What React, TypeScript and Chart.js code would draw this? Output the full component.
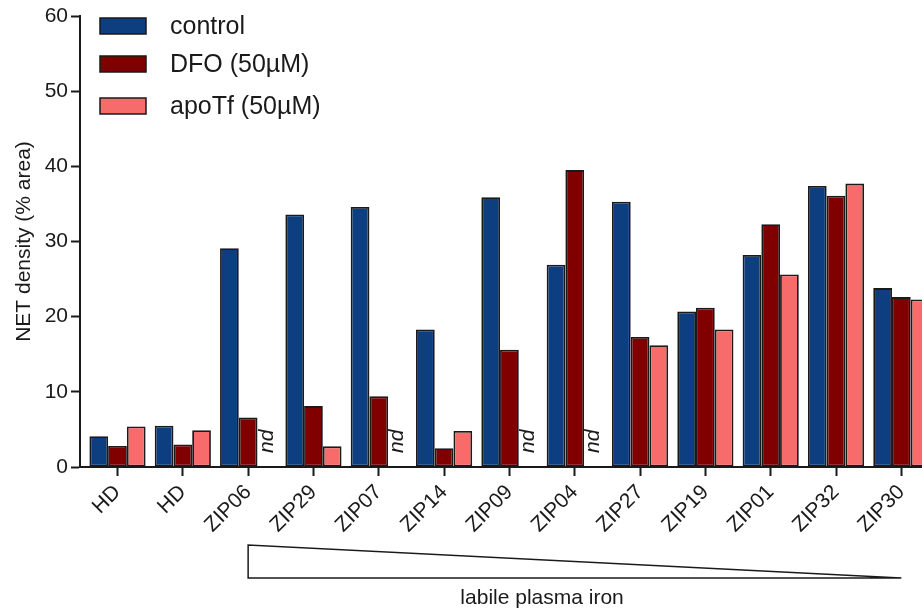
import React, { useEffect, useRef } from 'react';
import { Chart, registerables } from 'chart.js';

Chart.register(...registerables);

const categories = ['HD', 'HD', 'ZIP06', 'ZIP29', 'ZIP07', 'ZIP14', 'ZIP09', 'ZIP04', 'ZIP27', 'ZIP19', 'ZIP01', 'ZIP32', 'ZIP30'];
const controlValues = [4.1, 5.5, 29.1, 33.6, 34.6, 18.3, 35.9, 26.9, 35.3, 20.7, 28.2, 37.4, 23.8];
const dfoValues = [2.8, 3.0, 6.6, 8.1, 9.4, 2.5, 15.6, 39.5, 17.3, 21.2, 32.3, 36.1, 22.6];
const apoTfValues: (number | null)[] = [5.4, 4.9, null, 2.75, null, 4.8, null, null, 16.2, 18.3, 25.6, 37.7, 22.3];

const seriesLabels = ['control', 'DFO (50µM)', 'apoTf (50µM)'];
const seriesColors = ['#0d3f80', '#800000', '#f86b6b'];
const yTickValues = [0, 10, 20, 30, 40, 50, 60];
const yTitle = 'NET density (% area)';
const xNote = 'labile plasma iron';
const ndLabel = 'nd';
const gradientFrom = 2; // ZIP06
const gradientTo = 12; // ZIP30

const FONT = '"Liberation Sans", Arial, sans-serif';
const INK = '#1a1a1a';

export default function App() {
  const ref = useRef<HTMLCanvasElement>(null);

  useEffect(() => {
    const canvas = ref.current;
    if (!canvas) return;
    const series = [controlValues, dfoValues, apoTfValues];

    const overlay = {
      id: 'overlay',
      afterDatasetsDraw(chart: any) {
        const ctx = chart.ctx;
        const y = chart.scales.y;
        ctx.save();
        ctx.font = `italic 21px ${FONT}`;
        ctx.fillStyle = INK;
        series.forEach((vals, di) => {
          const meta = chart.getDatasetMeta(di);
          vals.forEach((v, i) => {
            if (v === null || v === undefined) {
              const el = meta.data[i];
              if (!el || !isFinite(el.x)) return;
              ctx.save();
              ctx.translate(el.x, y.getPixelForValue(0) - 14);
              ctx.rotate(-Math.PI / 2);
              ctx.textAlign = 'left';
              ctx.textBaseline = 'middle';
              ctx.fillText(ndLabel, 0, 0);
              ctx.restore();
            }
          });
        });
        ctx.restore();
      },
      afterDraw(chart: any) {
        const ctx = chart.ctx;
        const x = chart.scales.x;
        // legend
        const rowY = [26, 64, 106];
        ctx.save();
        seriesLabels.forEach((label, i) => {
          ctx.fillStyle = seriesColors[i];
          ctx.fillRect(100, rowY[i] - 8, 46, 16);
          ctx.lineWidth = 1.5;
          ctx.strokeStyle = INK;
          ctx.strokeRect(100, rowY[i] - 8, 46, 16);
          ctx.fillStyle = INK;
          ctx.font = `25px ${FONT}`;
          ctx.textAlign = 'left';
          ctx.textBaseline = 'middle';
          ctx.fillText(label, 170, rowY[i] + 1);
        });
        // gradient triangle
        const x0 = x.getPixelForValue(gradientFrom);
        const x1 = x.getPixelForValue(gradientTo);
        ctx.beginPath();
        ctx.moveTo(x0, 545);
        ctx.lineTo(x0, 578);
        ctx.lineTo(x1, 578);
        ctx.closePath();
        ctx.lineWidth = 1.5;
        ctx.strokeStyle = INK;
        ctx.stroke();
        ctx.fillStyle = INK;
        ctx.font = `21px ${FONT}`;
        ctx.textAlign = 'center';
        ctx.textBaseline = 'middle';
        ctx.fillText(xNote, x.getPixelForValue((gradientFrom + gradientTo) / 2 - 0.5), 598);
        ctx.restore();
      },
    };

    const chart = new Chart(canvas, {
      type: 'bar',
      data: {
        datasets: series.map((vals, i) => ({
          label: seriesLabels[i],
          data: vals.map((v, j) => ({ x: j, y: v })),
          backgroundColor: seriesColors[i],
          borderColor: INK,
          borderWidth: 1.8,
          borderSkipped: false,
          categoryPercentage: 0.86,
          barPercentage: 1,
        })) as any,
      },
      options: {
        responsive: false,
        animation: false,
        layout: { padding: { top: 16, right: 10, left: 0, bottom: 0 } },
        plugins: {
          legend: { display: false },
          tooltip: { enabled: false },
        },
        scales: {
          x: {
            type: 'linear',
            offset: false,
            min: -0.574,
            max: 12.5,
            afterBuildTicks(scale: any) {
              scale.ticks = categories.map((_, i) => ({ value: i }));
            },
            afterFit(scale: any) {
              scale.height = 145;
              scale.paddingLeft = 0;
              scale.paddingRight = 0;
              scale.paddingTop = 0;
              scale.paddingBottom = 0;
            },
            ticks: {
              autoSkip: false,
              minRotation: 45,
              maxRotation: 45,
              padding: 4,
              color: INK,
              font: { family: FONT, size: 21 },
              callback: (v: any) => categories[v] ?? '',
            },
            grid: {
              display: true,
              offset: false,
              drawOnChartArea: false,
              drawTicks: true,
              tickLength: 9,
              tickWidth: 2,
              tickColor: INK,
            },
            border: { display: true, color: INK, width: 2 },
          },
          y: {
            type: 'linear',
            min: 0,
            max: 60,
            afterBuildTicks(scale: any) {
              scale.ticks = yTickValues.map((v) => ({ value: v }));
            },
            afterFit(scale: any) {
              scale.width = 80;
              scale.paddingTop = 0;
              scale.paddingBottom = 0;
              scale.paddingLeft = 0;
              scale.paddingRight = 0;
            },
            ticks: {
              padding: 3,
              color: INK,
              font: { family: FONT, size: 21 },
            },
            grid: {
              display: true,
              drawOnChartArea: false,
              drawTicks: true,
              tickLength: 9,
              tickWidth: 2,
              tickColor: INK,
            },
            border: { display: true, color: INK, width: 2 },
            title: {
              display: true,
              text: yTitle,
              color: INK,
              font: { family: FONT, size: 21 },
              padding: { top: 12, bottom: 0 },
            },
          },
        },
      },
      plugins: [overlay],
    });

    return () => chart.destroy();
  }, []);

  return (
    <div style={{ position: 'absolute', left: 0, top: 0, width: 922, height: 612, overflow: 'hidden', background: '#fff' }}>
      <canvas ref={ref} width={944} height={612} style={{ display: 'block' }} />
    </div>
  );
}
